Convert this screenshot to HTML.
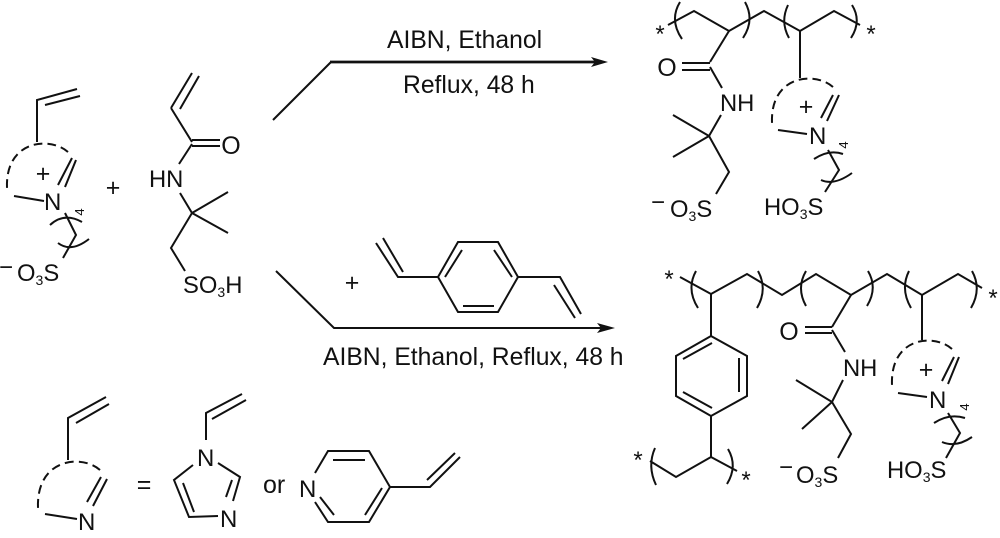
<!DOCTYPE html>
<html><head><meta charset="utf-8"><style>
html,body{margin:0;padding:0;background:#fff;width:1000px;height:538px;overflow:hidden}
svg{display:block}
text{font-family:"Liberation Sans",sans-serif;font-size:23.8px;fill:#111}
.s{font-size:14px}
.r{font-size:24.7px}
.b path{fill:none;stroke:#111;stroke-width:2;stroke-linejoin:miter}
.d{stroke-dasharray:9.5 5.58}
.a{font-size:24px;text-anchor:middle}
.f{font-size:13px;text-anchor:middle}
.m{text-anchor:middle;font-size:25px}
.n{font-size:24px}
</style></head><body>
<svg width="1000" height="538" viewBox="0 0 1000 538" xmlns="http://www.w3.org/2000/svg">
<g class="b">
<!-- left monomer -->
<path d="M37 142V100L77 89M45 105L80 96"/>
<path class="d" pathLength="100" d="M68 152C50 136 5 140 7 188"/>
<path d="M72 158L58 185M76 160L65 187M14 196L44 201M65 213L76 235L63 258"/>
<path d="M50 225Q64 212 82 222M58 243Q71 253 89 239"/>
<!-- acrylamide monomer -->
<path d="M171 108L192 73M180 109L199 76M171 108L192 142M192 140H220M192 146H220M192 144L179 164M180 193L192 213L228 192M192 213L228 233M192 213L171 248L185 271"/>
<!-- arrows -->
<path d="M273 120L331 62"/>
<path style="stroke-width:2.7" d="M330 62H600"/>
<path d="M276 271L334 328H605"/>
<!-- divinylbenzene -->
<path d="M438 277L458 242H498L518 277L498 312H458ZM445 277L462 250M494 250L512 277M463 306H494"/>
<path d="M438 277H398L376 243M403 272L383 238M518 277H560L581 314M554 285L575 318"/>
<!-- top polymer -->
<path d="M668 25L694 11L729 31L764 11L800 31L834 11L860 25"/>
<path d="M680 2Q669 20 682 39M745 2Q755 20 743 38M788 5Q780 22 789 38M852 5Q862 21 851 38"/>
<path d="M729 31L710 62M682 63H710M682 70H710M710 67L722 88M721 115L709 136L673 115M709 136L673 157M709 136L729 172L716 194"/>
<path d="M800 31V78M833 95L821 118M839 95L827 121M778 130L807 134M828 150L839 170L825 192"/>
<path class="d" pathLength="100" d="M833 87C815 71 770 75 772 123"/>
<path d="M814 159Q829 149 843 154M821 180Q834 186 852 173"/>
<!-- bottom polymer -->
<path d="M680 277L711 294L747 274L782 295L816 274L851 295L887 274L922 295L958 274L982 288"/>
<path d="M696 271Q686 289 698 308M758 271Q768 289 757 308M806 271Q796 288 806 306M868 271Q878 288 867 306M909 271Q900 289 911 308M972 271Q982 289 971 308"/>
<path d="M711 294V336L747 356V396L711 416L676 396V356L711 336M683 359L712 343M739 358V392M683 392L712 408M711 416V457"/>
<path d="M650 461L676 477L711 457L737 471M655 448Q647 466 656 485M728 449Q738 466 727 484"/>
<path d="M851 295L832 327M805 327H832M805 333H832M832 330L845 352M843 380L832 402L796 380M832 402L802 429M832 402L851 434L838 458"/>
<path d="M922 295V340M954 357L942 381M959 357L948 384M898 393L927 397M948 413L960 433L946 458"/>
<path class="d" pathLength="100" d="M952 349C934 333 890 337 892 385"/>
<path d="M934 423Q949 413 965 418M942 442Q956 448 972 437"/>
<!-- generic ring -->
<path d="M68 460V418L106 397M76 423L109 404M101 477L87 502M107 479L93 506M45 514L77 519"/>
<path class="d" pathLength="100" d="M100 470C82 454 36 458 38 508"/>
<!-- imidazole -->
<path d="M206 440V413L242 394M212 419L246 400M193 465L174 480L189 517L218 516M218 463L240 477L233 501M232 480L226 497M183 483L194 512"/>
<!-- pyridine -->
<path d="M315 473L328 451H369L390 487L369 522H328L315 502M333 460H365M382 488L365 515M334 515L320 497M390 487H430L460 457M427 480L455 453"/>
</g>
<polygon points="608,62 591,57 595,62 591,67" fill="#111"/>
<polygon points="615,328 597,323 601,328 597,333" fill="#111"/>

<!-- left monomer labels -->
<text x="43" y="182" class="m">+</text>
<text x="44" y="210" class="n">N</text>
<text x="80" y="216" class="f" transform="rotate(-90 80 212)">4</text>
<text x="-1" y="275" class="n">−</text>
<text x="17" y="281">O<tspan class="s" dy="4">3</tspan><tspan dy="-4">S</tspan></text>
<text x="113" y="196" class="m">+</text>
<text x="149" y="187">HN</text>
<text x="231" y="154" class="m">O</text>
<text x="183" y="293">SO<tspan class="s" dy="4">3</tspan><tspan dy="-4">H</tspan></text>

<!-- reaction labels -->
<text x="387" y="48" class="r">AIBN, Ethanol</text>
<text x="403" y="93" class="r">Reflux, 48 h</text>
<text x="352" y="291" class="m">+</text>
<text x="323" y="365" class="r">AIBN, Ethanol, Reflux, 48 h</text>

<!-- top polymer labels -->
<text x="660" y="42" class="a">*</text>
<text x="871" y="42" class="a">*</text>
<text x="667" y="76" class="m">O</text>
<text x="720" y="111">NH</text>
<text x="651" y="210" class="n">−</text>
<text x="670" y="217">O<tspan class="s" dy="4">3</tspan><tspan dy="-4">S</tspan></text>
<text x="806" y="115" class="m">+</text>
<text x="809" y="144" class="n">N</text>
<text x="844" y="149" class="f" transform="rotate(-90 844 145)">4</text>
<text x="764" y="215">HO<tspan class="s" dy="4">3</tspan><tspan dy="-4">S</tspan></text>

<!-- bottom polymer labels -->
<text x="669" y="287" class="a">*</text>
<text x="993" y="306" class="a">*</text>
<text x="638" y="468" class="a">*</text>
<text x="746" y="488" class="a">*</text>
<text x="789" y="340" class="m">O</text>
<text x="843" y="376">NH</text>
<text x="779" y="475" class="n">−</text>
<text x="796" y="483">O<tspan class="s" dy="4">3</tspan><tspan dy="-4">S</tspan></text>
<text x="926" y="378" class="m">+</text>
<text x="929" y="408" class="n">N</text>
<text x="965" y="411" class="f" transform="rotate(-90 965 407)">4</text>
<text x="887" y="478">HO<tspan class="s" dy="4">3</tspan><tspan dy="-4">S</tspan></text>

<!-- bottom row labels -->
<text x="78" y="530" class="n">N</text>
<text x="144" y="493" class="m">=</text>
<text x="197" y="466" class="n">N</text>
<text x="220" y="527" class="n">N</text>
<text x="263" y="493" class="m" style="text-anchor:start">or</text>
<text x="299" y="497" class="n">N</text>
</svg>
</body></html>
